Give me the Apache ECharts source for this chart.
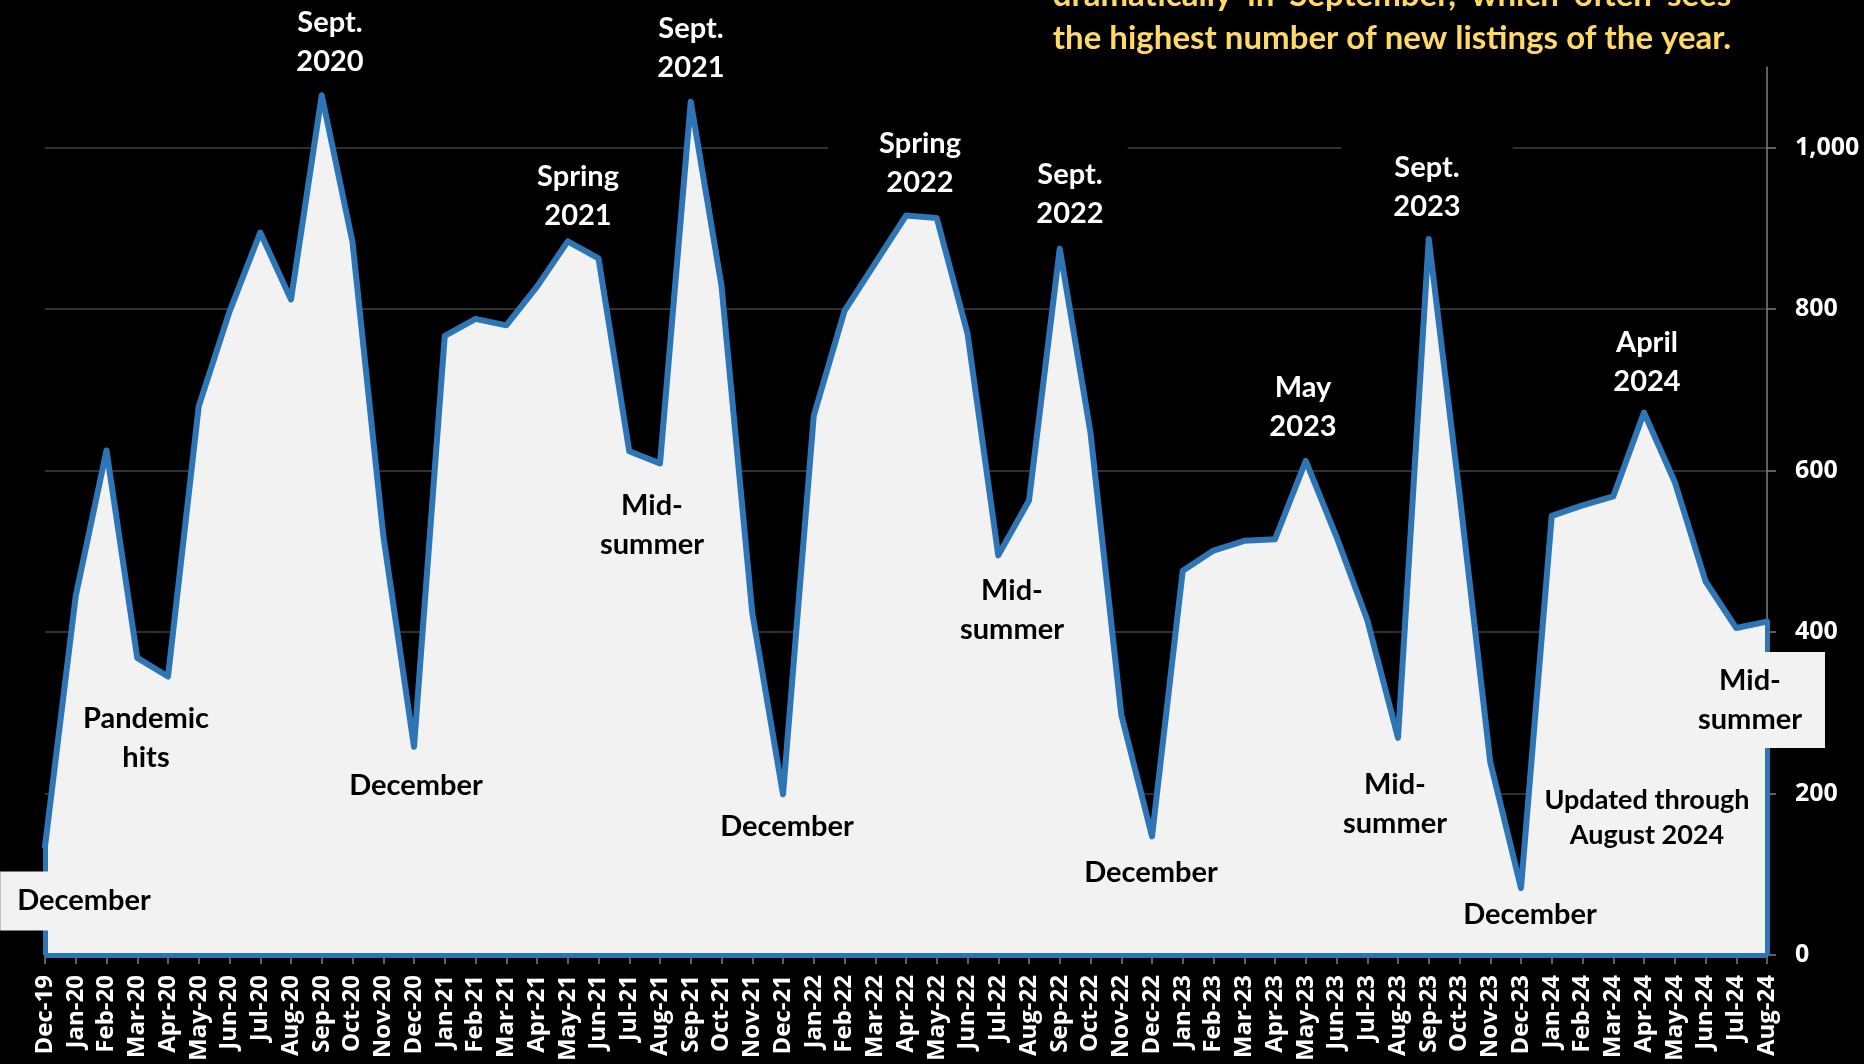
<!DOCTYPE html>
<html>
<head>
<meta charset="utf-8">
<script src="https://cdn.jsdelivr.net/npm/echarts@6/dist/echarts.min.js"></script>
<style>
  html, body { margin: 0; padding: 0; background: #000; }
  #chart { width: 1864px; height: 1064px; }
</style>
</head>
<body>
<div id="chart"></div>
<script>
// Monthly new listings, Dec 2019 through Aug 2024
const months = [
  'Dec-19',
  'Jan-20','Feb-20','Mar-20','Apr-20','May-20','Jun-20','Jul-20','Aug-20','Sep-20','Oct-20','Nov-20','Dec-20',
  'Jan-21','Feb-21','Mar-21','Apr-21','May-21','Jun-21','Jul-21','Aug-21','Sep-21','Oct-21','Nov-21','Dec-21',
  'Jan-22','Feb-22','Mar-22','Apr-22','May-22','Jun-22','Jul-22','Aug-22','Sep-22','Oct-22','Nov-22','Dec-22',
  'Jan-23','Feb-23','Mar-23','Apr-23','May-23','Jun-23','Jul-23','Aug-23','Sep-23','Oct-23','Nov-23','Dec-23',
  'Jan-24','Feb-24','Mar-24','Apr-24','May-24','Jun-24','Jul-24','Aug-24'
];

const newListings = [
  135,
  445, 625, 368, 345, 680, 797, 895, 812, 1065, 883, 520, 258,
  767, 788, 780, 828, 884, 863, 624, 609, 1057, 829, 424, 199,
  668, 798, 857, 916, 913, 770, 495, 563, 875, 647, 298, 147,
  476, 501, 513, 515, 612, 518, 415, 269, 887, 571, 239, 83,
  544, 557, 568, 672, 586, 463, 405, 413
];

const yMin = 0;
const yMax = 1100;
const yStep = 200;

const titleLine1 = 'dramatically in September, which often sees';
const titleLine2 = 'the highest number of new listings of the year.';

// Callouts placed around the peaks and troughs
const callouts = [
  { text: 'Sept.\n2020', kind: 'dark', x: 330, y: 42 },
  { text: 'Sept.\n2021', kind: 'dark', x: 691, y: 48 },
  { text: 'Spring\n2021', kind: 'dark', x: 578, y: 196 },
  { text: 'Spring\n2022', kind: 'dark', x: 920, y: 163, padding: [8, 51, 8, 51] },
  { text: 'Sept.\n2022', kind: 'dark', x: 1070, y: 194, padding: [16, 24, 8, 24] },
  { text: 'Sept.\n2023', kind: 'dark', x: 1427, y: 187, padding: [14, 52, 8, 52] },
  { text: 'May\n2023', kind: 'dark', x: 1303, y: 407 },
  { text: 'April\n2024', kind: 'dark', x: 1647, y: 362 },
  { text: 'Mid-\nsummer', kind: 'light', x: 652, y: 525 },
  { text: 'Mid-\nsummer', kind: 'light', x: 1012, y: 610 },
  { text: 'Mid-\nsummer', kind: 'light', x: 1395, y: 804 },
  { text: 'Mid-\nsummer', kind: 'box', x: 1750, y: 700, padding: [9, 23, 9, 23] },
  { text: 'Pandemic\nhits', kind: 'light', x: 146, y: 738 },
  { text: 'December', kind: 'box', x: 84, y: 901, padding: [10, 17, 10, 17] },
  { text: 'December', kind: 'light', x: 416, y: 786 },
  { text: 'December', kind: 'light', x: 787, y: 827 },
  { text: 'December', kind: 'light', x: 1151, y: 873 },
  { text: 'December', kind: 'light', x: 1530, y: 915 },
  { text: 'Updated through\nAugust 2024', kind: 'light', x: 1647, y: 818, small: true }
];

const lineBlue = '#2E75B6';
const fillGrey = '#F2F2F2';
const titleColor = '#FFD966';
const titleFont = 'bold 33px Lato';
const calloutFont = 'bold 29px Lato';
const smallFont = 'bold 27px Lato';

const chart = echarts.init(document.getElementById('chart'), null, { renderer: 'canvas' });

// Title: second line centred, first line justified to the same width
const ctx = document.createElement('canvas').getContext('2d');
ctx.font = titleFont;
const titleCenter = 1392;
const w2 = ctx.measureText(titleLine2).width;
const tLeft = titleCenter - w2 / 2;
const words = titleLine1.split(' ');
const wordWidths = words.map(w => ctx.measureText(w).width);
const gap = (w2 - wordWidths.reduce((a, b) => a + b, 0)) / (words.length - 1);

const graphics = [];
let cx = tLeft;
words.forEach((w, i) => {
  graphics.push({
    type: 'text', x: cx, y: -5, z: 20, silent: true,
    style: { text: w, font: titleFont, fill: titleColor, textAlign: 'left', align: 'left', textVerticalAlign: 'middle', verticalAlign: 'middle' }
  });
  cx += wordWidths[i] + gap;
});
graphics.push({
  type: 'text', x: titleCenter, y: 38, z: 20, silent: true,
  style: { text: titleLine2, font: titleFont, fill: titleColor, textAlign: 'center', align: 'center', textVerticalAlign: 'middle', verticalAlign: 'middle' }
});

callouts.forEach(c => {
  const style = {
    text: c.text,
    font: c.small ? smallFont : calloutFont,
    lineHeight: c.small ? 35 : 39,
    fill: c.kind === 'dark' ? '#FFFFFF' : '#000000',
    textAlign: 'center', align: 'center',
    textVerticalAlign: 'middle', verticalAlign: 'middle'
  };
  let z = 10;
  if (c.kind === 'dark') {
    style.backgroundColor = '#000000';
    style.padding = c.padding || [4, 10, 4, 10];
    z = 1;
  } else if (c.kind === 'box') {
    style.backgroundColor = fillGrey;
    style.padding = c.padding;
  }
  graphics.push({ type: 'text', x: c.x, y: c.y, z: z, silent: true, style: style });
});

const last = months.length - 1;

chart.setOption({
  backgroundColor: '#000000',
  animation: false,
  grid: { left: 45, right: 97, top: 67, bottom: 109, containLabel: false },
  xAxis: {
    type: 'category',
    data: months,
    boundaryGap: false,
    axisLine: { show: true, lineStyle: { color: '#7F7F7F', width: 1 } },
    axisTick: { show: true, interval: 0, length: 9, lineStyle: { color: '#7F7F7F', width: 1.5 } },
    axisLabel: {
      interval: 0, rotate: 90, margin: 20,
      color: '#FFFFFF', fontFamily: 'Open Sans', fontWeight: 'bold', fontSize: 24
    },
    splitLine: { show: false }
  },
  yAxis: {
    type: 'value',
    position: 'right',
    min: yMin, max: yMax, interval: yStep,
    axisLine: { show: true, lineStyle: { color: '#7F7F7F', width: 1.5 } },
    axisTick: { show: true, length: 9, lineStyle: { color: '#7F7F7F', width: 1.5 } },
    axisLabel: {
      showMaxLabel: false, margin: 28,
      color: '#FFFFFF', fontFamily: 'Open Sans', fontWeight: 'bold', fontSize: 25,
      formatter: v => v.toLocaleString('en-US')
    },
    splitLine: { show: true, showMaxLine: false, lineStyle: { color: '#404040', width: 1.5 } }
  },
  series: [{
    type: 'line',
    data: newListings,
    symbol: 'none',
    lineStyle: { color: lineBlue, width: 6, join: 'round', cap: 'round' },
    areaStyle: { color: fillGrey, opacity: 1 },
    emphasis: { disabled: true },
    silent: true,
    z: 2,
    markLine: {
      silent: true,
      symbol: 'none',
      animation: false,
      label: { show: false },
      emphasis: { disabled: true },
      lineStyle: { color: lineBlue, width: 5, type: 'solid' },
      data: [
        [{ coord: [months[0], 0] }, { coord: [months[0], newListings[0]] }],
        [{ coord: [months[last], 0] }, { coord: [months[last], newListings[last]] }],
        [{ coord: [months[0], 0] }, { coord: [months[last], 0] }]
      ]
    }
  }],
  graphic: { elements: graphics }
});
</script>
</body>
</html>
